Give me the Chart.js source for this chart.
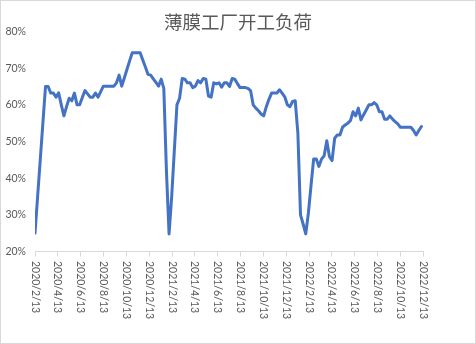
<!DOCTYPE html>
<html>
<head>
<meta charset="utf-8">
<script src="https://cdn.jsdelivr.net/npm/chart.js@4.4.0/dist/chart.umd.min.js"></script>
<style>
  html, body { margin: 0; padding: 0; background: #fff; }
</style>
</head>
<body>
<canvas id="filmChart" width="476" height="344"></canvas>
<script>
const chartTitle = '薄膜工厂开工负荷';

// weekly readings (%), first one on 2020/2/13
const loadValues = [
  25, 35, 45, 55, 65, 65, 63.2, 63.2, 62.1, 63.3,
  60, 57, 59.5, 61.8, 61.1, 63.2, 60, 60, 62, 63.9,
  63, 62.1, 62.1, 63.2, 62.1, 63.6, 65.1, 65.1, 65.1, 65.1,
  65.1, 66, 68.1, 65.1, 67.4, 69.7, 72, 74.2, 74.2, 74.2,
  74.2, 72.2, 70.3, 68.3, 68.1, 67.1, 66.1, 65.1, 67, 64.5,
  42, 24.8, 35, 47.5, 60, 61.8, 67.2, 67, 66, 66,
  64.7, 65.1, 66.6, 66, 67.2, 67, 62.4, 62.1, 66, 65.7,
  66, 64.8, 66, 66, 65, 67.2, 67, 65.8, 64.7, 64.7,
  64.7, 64.5, 63.9, 60, 59.1, 58.4, 57.5, 57, 59.5, 61.5,
  63.2, 63.2, 63.2, 64.1, 63.2, 62.2, 60, 59.5, 60.9, 61.1,
  52.3, 30, 27.5, 24.8, 30.5, 38, 45.2, 45.2, 43.2, 45.2,
  46.1, 50.2, 45.9, 44.8, 50.9, 51.8, 51.8, 53.9, 54.5, 55,
  55.7, 58.1, 57, 59.1, 55.9, 57.3, 58.6, 60, 60, 60.6,
  60, 58.1, 58.1, 56.1, 56.1, 57, 56.1, 55.4, 54.8, 53.9,
  53.9, 53.9, 53.9, 53.9, 53, 51.8, 53, 54.1
];

const tickLabels = [
  '2020/2/13', '2020/4/13', '2020/6/13', '2020/8/13', '2020/10/13', '2020/12/13',
  '2021/2/13', '2021/4/13', '2021/6/13', '2021/8/13', '2021/10/13', '2021/12/13',
  '2022/2/13', '2022/4/13', '2022/6/13', '2022/8/13', '2022/10/13', '2022/12/13'
];

// days since the first date
function dayOf(label) {
  const [y, m, d] = label.split('/').map(Number);
  return (Date.UTC(y, m - 1, d) - Date.UTC(2020, 1, 13)) / 86400000;
}

const decor = {
  id: 'decor',
  beforeDraw(chart) {
    const ctx = chart.ctx;
    ctx.save();
    ctx.fillStyle = '#fff';
    ctx.fillRect(0, 0, chart.width, chart.height);
    ctx.restore();
  },
  afterDraw(chart) {
    const ctx = chart.ctx;
    const x = chart.scales.x;
    ctx.save();
    ctx.strokeStyle = '#d9d9d9';
    ctx.lineWidth = 1;
    ctx.strokeRect(0.5, 0.5, chart.width - 1, chart.height - 1);

    ctx.fillStyle = '#595959';
    ctx.font = '18.5px "Noto Sans CJK SC"';
    ctx.textAlign = 'center';
    ctx.textBaseline = 'middle';
    ctx.fillText(chartTitle, chart.width / 2, 22);

    // date labels read top to bottom
    ctx.font = '10.5px Lato';
    ctx.textAlign = 'left';
    tickLabels.forEach(l => {
      const px = x.getPixelForValue(dayOf(l));
      ctx.save();
      ctx.translate(px, x.top + 9.5);
      ctx.rotate(Math.PI / 2);
      ctx.fillText(l, 0, 0);
      ctx.restore();
    });
    ctx.restore();
  }
};

new Chart(document.getElementById('filmChart'), {
  type: 'line',
  data: {
    datasets: [{
      data: loadValues.map((v, i) => ({ x: i * 7, y: v })),
      borderColor: '#4472C4',
      borderWidth: 3,
      pointRadius: 0,
      tension: 0,
      fill: false,
      borderJoinStyle: 'round',
      borderCapStyle: 'round'
    }]
  },
  options: {
    responsive: false,
    animation: false,
    devicePixelRatio: 1,
    layout: { padding: { left: 0, right: 52.7, top: 31.5, bottom: 0 } },
    plugins: {
      legend: { display: false },
      tooltip: { enabled: false },
      title: { display: false }
    },
    scales: {
      x: {
        type: 'linear',
        min: 0,
        max: dayOf('2022/12/13'),
        afterBuildTicks: s => { s.ticks = tickLabels.map(l => ({ value: dayOf(l) })); },
        afterFit: s => { s.height = 92.5; },
        ticks: { display: false },
        grid: { drawOnChartArea: false, drawTicks: true, tickLength: 5, color: '#d9d9d9' },
        border: { color: '#d9d9d9' }
      },
      y: {
        min: 20,
        max: 80,
        afterFit: s => { s.width = 35; },
        ticks: {
          stepSize: 10,
          padding: 9,
          color: '#595959',
          font: { family: 'Lato', size: 10.5 },
          callback: v => v + '%'
        },
        grid: { display: false, drawTicks: false, tickLength: 0 },
        border: { display: false }
      }
    }
  },
  plugins: [decor]
});
</script>
</body>
</html>
